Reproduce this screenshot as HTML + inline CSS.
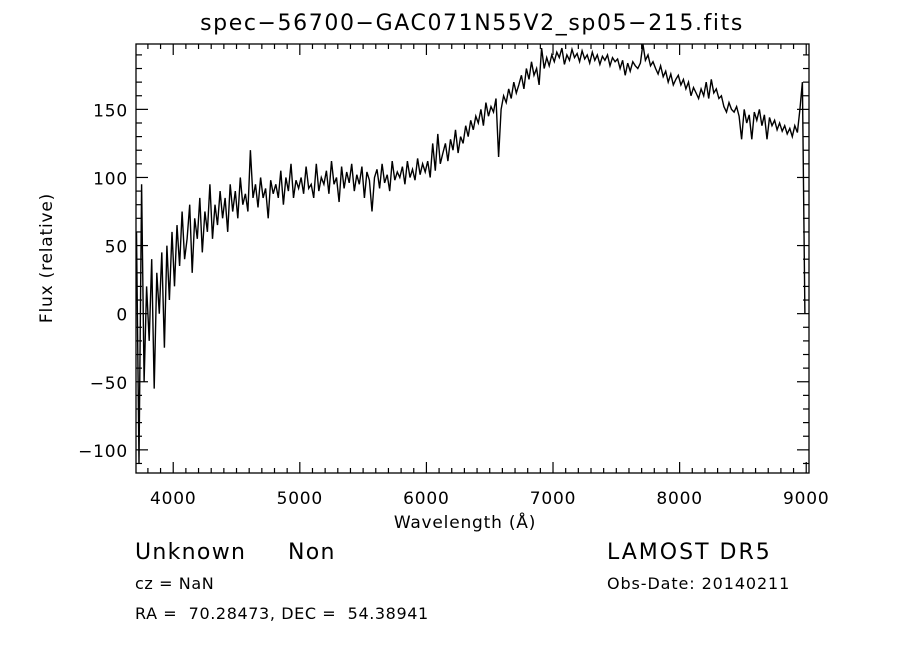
<!DOCTYPE html>
<html><head><meta charset="utf-8"><style>
body{margin:0;background:#fff;}
svg text{font-family:"DejaVu Sans","Liberation Sans",sans-serif;fill:#000;}
</style></head><body>
<svg width="900" height="649" viewBox="0 0 900 649" xmlns="http://www.w3.org/2000/svg">
<rect width="900" height="649" fill="#fff"/>
<text x="472" y="30" font-size="22" letter-spacing="1.6" text-anchor="middle">spec−56700−GAC071N55V2_sp05−215.fits</text>
<g id="axes"></g>
<path id="spec" fill="none" stroke="#000" stroke-width="1.4"/>
<rect x="136" y="44" width="673" height="429" fill="none" stroke="#000" stroke-width="1.3"/>
<text x="465" y="528" font-size="17" letter-spacing="0.8" text-anchor="middle">Wavelength (Å)</text>
<text transform="translate(52,258) rotate(-90)" font-size="17" letter-spacing="0.8" text-anchor="middle">Flux (relative)</text>
<text x="135" y="559" font-size="22" letter-spacing="1.3">Unknown</text>
<text x="288" y="559" font-size="22" letter-spacing="1.3">Non</text>
<text x="135" y="589" font-size="16" letter-spacing="0.6">cz = NaN</text>
<text x="135" y="619" font-size="16" letter-spacing="0.6" xml:space="preserve">RA =  70.28473, DEC =  54.38941</text>
<text x="607" y="559" font-size="22" letter-spacing="2">LAMOST DR5</text>
<text x="607" y="589" font-size="16" letter-spacing="0.9">Obs-Date: 20140211</text>
</svg>
<script>
const waveStart = 3710;
const waveStep = 20;
const flux = [60,-110,95,-50,20,
-20,40,-55,30,0,45,-25,50,10,60,
20,65,35,75,40,55,80,30,70,55,
85,45,75,60,95,55,80,65,90,70,
85,60,95,75,90,70,100,80,88,75,
120,85,95,78,100,85,92,70,98,88,
95,85,105,80,100,90,110,85,98,92,
100,88,108,92,95,85,110,90,100,95,
105,88,112,95,100,82,108,92,104,96,
110,90,102,95,108,85,104,98,75,100,
106,92,110,96,102,90,112,98,104,100,
108,95,112,100,106,98,114,102,110,104,
112,100,125,105,132,110,118,125,112,128,
120,135,118,130,125,138,130,142,135,145,
140,150,138,155,145,152,148,158,115,150,
160,155,165,158,170,162,168,175,165,180,
172,185,175,180,168,195,180,188,182,190,
185,192,188,195,183,190,186,194,188,191,
185,193,187,190,184,192,186,190,183,189,
186,190,182,188,185,187,180,186,175,184,
178,185,182,180,184,200,186,190,182,185,
180,176,182,174,178,170,176,168,172,175,
168,172,165,170,160,166,162,158,165,160,
170,158,172,162,165,158,160,152,148,155,
150,148,152,145,128,150,140,146,128,148,
142,150,138,146,128,144,138,142,135,140,
134,138,132,136,130,138,133,150,170,0];
const wavelengths = flux.map((_, i) => waveStart + i * waveStep);
const xTicks = [4000,5000,6000,7000,8000,9000];
const yTicks = [-100,-50,0,50,100,150];

const X0 = 136, X1 = 809, Y0 = 44, Y1 = 473;
const xMin = 3706, xMax = 9022, yMin = -117, yMax = 198;
const xs = w => X0 + (w - xMin) / (xMax - xMin) * (X1 - X0);
const ys = v => Y1 - (Math.max(yMin, Math.min(yMax, v)) - yMin) / (yMax - yMin) * (Y1 - Y0);

const NS = "http://www.w3.org/2000/svg";
const axes = document.getElementById("axes");
function ln(x1,y1,x2,y2,name){
  const l = document.createElementNS(NS,"line");
  l.setAttribute("x1",x1);l.setAttribute("y1",y1);l.setAttribute("x2",x2);l.setAttribute("y2",y2);
  l.setAttribute("stroke","#000");l.setAttribute("stroke-width","1.2");
  
  
  axes.appendChild(l);
}
for (let w = 3800; w <= 9000; w += 100) {
  const x = xs(w), len = (w % 1000 === 0) ? 11 : 5;
  ln(x, Y1, x, Y1 - len, 'x-tick');
  ln(x, Y0, x, Y0 + len, 'x-tick-top');
}
for (let v = -110; v <= 190; v += 10) {
  const y = ys(v), len = (v % 50 === 0) ? 12 : 6;
  ln(X0, y, X0 + len, y, 'y-tick');
  ln(X1, y, X1 - len, y, 'y-tick-right');
}
xTicks.forEach(t => {
  const tx = document.createElementNS(NS,"text");
  tx.setAttribute("x", xs(t)); tx.setAttribute("y", 504);
  tx.setAttribute("font-size","17"); tx.setAttribute("text-anchor","middle");
  tx.setAttribute("letter-spacing","0.8");
  tx.textContent = t;
  
  
  axes.appendChild(tx);
});
yTicks.forEach(t => {
  const tx = document.createElementNS(NS,"text");
  tx.setAttribute("x", 128); tx.setAttribute("y", ys(t) + 7);
  tx.setAttribute("font-size","17"); tx.setAttribute("text-anchor","end");
  tx.setAttribute("letter-spacing","0.8");
  tx.textContent = t < 0 ? "−" + Math.abs(t) : t;
  
  
  axes.appendChild(tx);
});
let d = "";
flux.forEach((f, i) => { d += (i ? "L" : "M") + xs(wavelengths[i]).toFixed(1) + "," + ys(f).toFixed(1); });
document.getElementById("spec").setAttribute("d", d);
</script>
</body></html>
